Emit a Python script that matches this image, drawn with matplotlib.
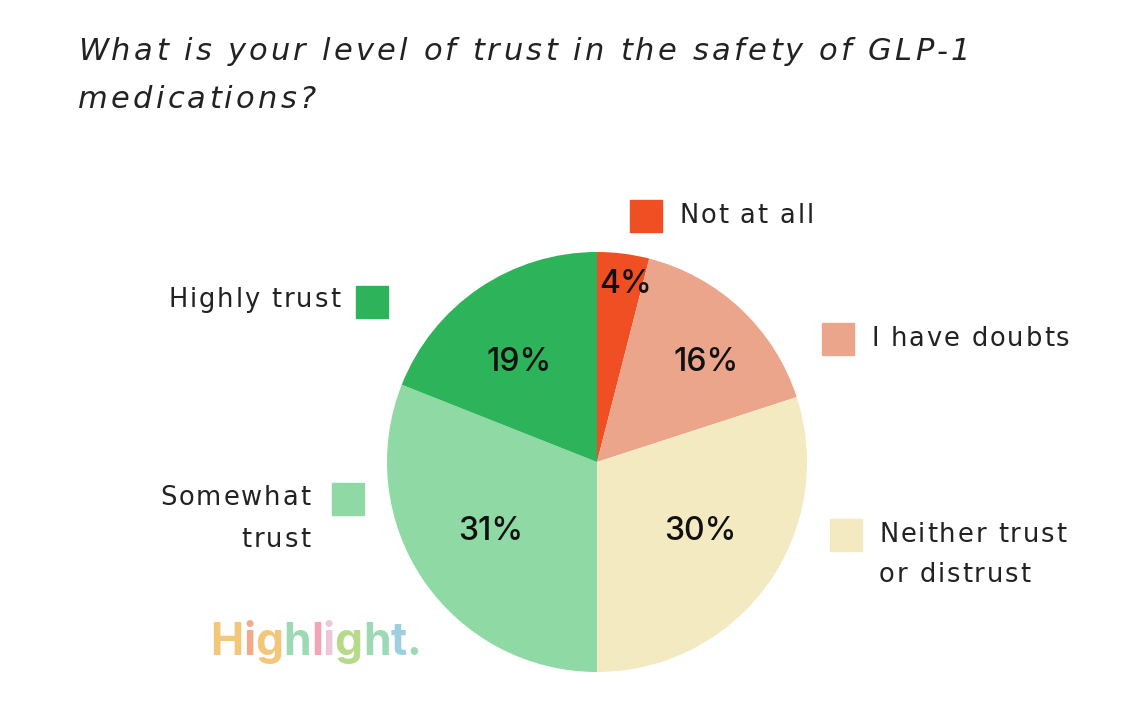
import matplotlib.pyplot as plt
from matplotlib.patches import Rectangle

labels = ['Not at all', 'I have doubts', 'Neither trust\nor distrust', 'Somewhat\ntrust', 'Highly trust']
values = [4, 16, 30, 31, 19]
colors = ['#F04E23', '#EBA58B', '#F3EAC2', '#8ED9A4', '#2DB35A']
title_lines = ['What is your level of trust in the safety of GLP-1', 'medications?']

W, H = 1148, 728
fig = plt.figure(figsize=(W / 100, H / 100), dpi=100)
fig.patch.set_facecolor('white')
renderer = fig.canvas.get_renderer()


def text_width(s, **kw):
    t = fig.text(0, 0, s, **kw)
    w = t.get_window_extent(renderer).width
    t.remove()
    return w


def spaced_text(x, y, s, track, ha='left', **kw):
    # draw a line char by char with extra letter spacing (pixel coords, y from top)
    space = text_width('a a', **kw) - text_width('aa', **kw)
    widths = [space if ch == ' ' else text_width(ch, **kw) for ch in s]
    total = sum(widths) + track * (len(s) - 1)
    x0 = x - total if ha == 'right' else x
    for ch, w in zip(s, widths):
        if ch != ' ':
            fig.text(x0 / W, 1 - y / H, ch, va='center', ha='left', **kw)
        x0 += w + track


cx, cy, r = 597, 462, 210
ax = fig.add_axes([(cx - r) / W, (H - cy - r) / H, 2 * r / W, 2 * r / H])
wedges, texts, autotexts = ax.pie(values, colors=colors, startangle=90, counterclock=False, radius=1,
       autopct='%d%%', pctdistance=0.64,
       textprops=dict(fontsize=23, fontweight='medium', color='#111111', family='Inter'))
pct_pos = [(0.138, 0.843), (0.519, 0.476), (0.490, -0.333), (-0.505, -0.333), (-0.371, 0.476)]
for t, p in zip(autotexts, pct_pos):
    t.set_position(p)
ax.set_xlim(-1, 1)
ax.set_ylim(-1, 1)
ax.set_aspect('equal')

tkw = dict(fontsize=22, style='italic', family='DejaVu Sans', color='#222222')
spaced_text(78, 52, title_lines[0], 3.2, **tkw)
spaced_text(78, 100, title_lines[1], 3.2, **tkw)

lkw = dict(fontsize=18.5, family='DejaVu Sans', color='#222222')
items = [
    (646, 216, 679, [216], 'left'),
    (838, 339, 871, [339], 'left'),
    (846, 535, 879, [535, 575], 'left'),
    (348, 499, 310, [498, 540], 'right'),
    (372, 302, 340, [300], 'right'),
]
s = 32
for (sx, sy, tx, tys, ha), lab, col in zip(items, labels, colors):
    fig.patches.append(Rectangle(((sx - s / 2) / W, 1 - (sy + s / 2) / H), s / W, s / H,
                                 transform=fig.transFigure, color=col))
    for line, ty in zip(lab.split('\n'), tys):
        spaced_text(tx, ty, line, 1.9, ha=ha, **lkw)

# logo
logo = 'Highlight.'
logo_cols = ['#F3C77A', '#F2A98C', '#F3C77A', '#9ED9B5', '#F2A3B5', '#EFC6D8', '#B7D98A', '#9ED9B5', '#9ECFE0', '#9ED9B5']
x = 210
for ch, c in zip(logo, logo_cols):
    t = fig.text(x / W, 1 - 643 / H, ch, fontsize=32, fontweight='bold', family='Inter',
                 color=c, va='center', ha='left')
    x += t.get_window_extent(renderer).width

fig.savefig('out.png', dpi=100, facecolor='white')
